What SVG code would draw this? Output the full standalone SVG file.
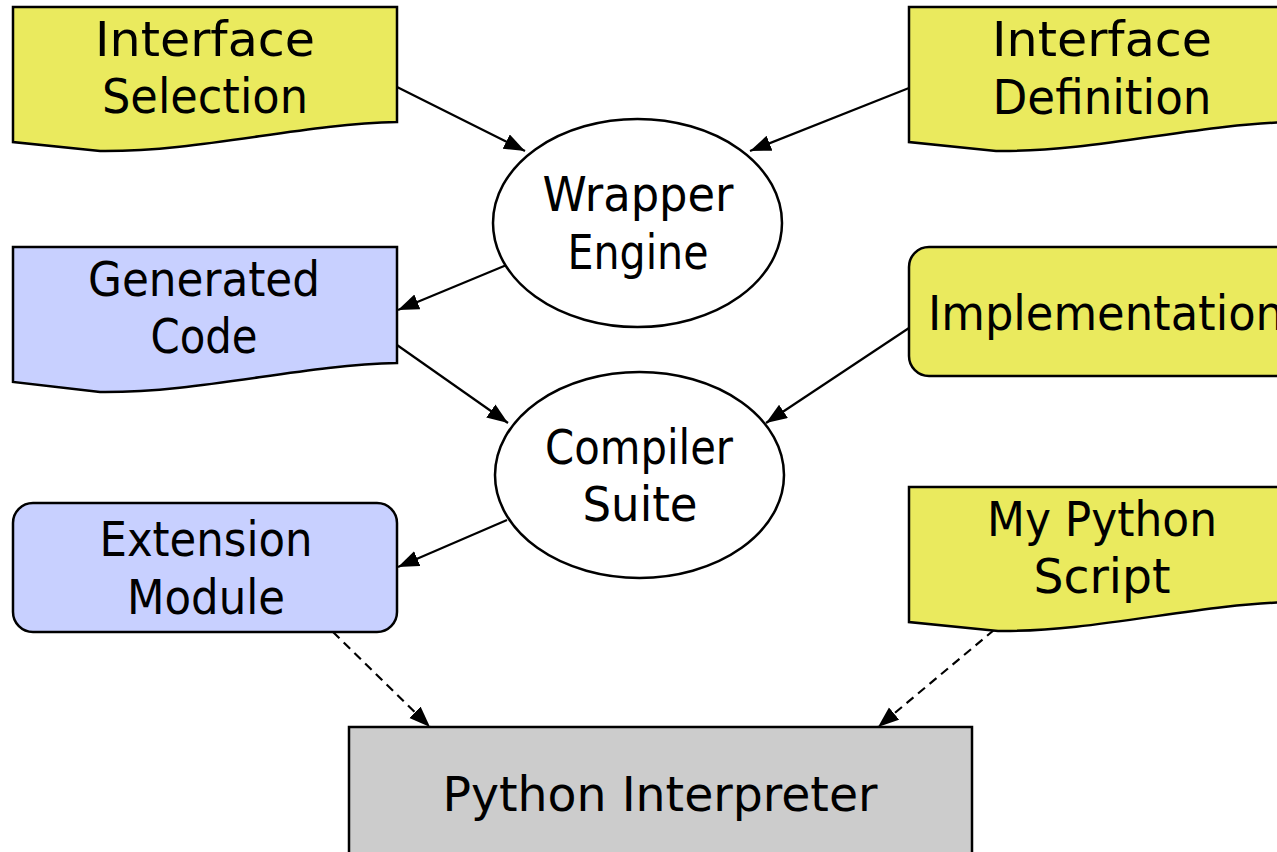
<svg xmlns="http://www.w3.org/2000/svg" width="1277" height="852" viewBox="0 0 1277 852">
  <style>
    .lbl { font-family: "Comic Sans MS", "DejaVu Sans", "Liberation Sans", sans-serif; font-size: 48px; fill: #000; text-anchor: middle; }
    .yellow { fill: #EAEA5E; stroke: #000; stroke-width: 2.5; }
    .blue { fill: #C8D0FF; stroke: #000; stroke-width: 2.5; }
    .gray { fill: #CCCCCC; stroke: #000; stroke-width: 2.5; }
    .oval { fill: #FFFFFF; stroke: #000; stroke-width: 2.5; }
    .edge { fill: none; stroke: #000; stroke-width: 2.2; marker-end: url(#arrow); }
    .dashed { stroke-dasharray: 9 6; }
  </style>
  <defs>
    <marker id="arrow" markerUnits="userSpaceOnUse" markerWidth="22" markerHeight="18" refX="21" refY="8" orient="auto">
      <path d="M0,0 L21,8 L0,16 Z" fill="#000"/>
    </marker>
  </defs>

  <rect width="1277" height="852" fill="#FFFFFF"/>

  <!-- connectors -->
  <g id="connectors">
    <line class="edge" x1="397" y1="87" x2="525" y2="151"/>
    <line class="edge" x1="909" y1="88" x2="750" y2="151"/>
    <line class="edge" x1="509" y1="264" x2="398" y2="310"/>
    <line class="edge" x1="397" y1="345" x2="508" y2="423"/>
    <line class="edge" x1="909" y1="328" x2="766" y2="423"/>
    <line class="edge" x1="507" y1="520" x2="398" y2="567"/>
    <line class="edge dashed" x1="333" y1="632" x2="430" y2="727"/>
    <line class="edge dashed" x1="994" y1="630" x2="878" y2="727"/>
  </g>

  <!-- Interface Selection (document) -->
  <g id="interface-selection">
    <path class="yellow" d="M13,7 L397,7 L397,122 C300,124 200,152 100,151 L13,142 Z"/>
    <text class="lbl" x="205" y="56" textLength="220" lengthAdjust="spacingAndGlyphs">Interface</text>
    <text class="lbl" x="205" y="113" textLength="206" lengthAdjust="spacingAndGlyphs">Selection</text>
  </g>

  <!-- Interface Definition (document) -->
  <g id="interface-definition">
    <path class="yellow" d="M909,7 L1293,7 L1293,122 C1196,124 1096,152 996,151 L909,142 Z"/>
    <text class="lbl" x="1102" y="56" textLength="220" lengthAdjust="spacingAndGlyphs">Interface</text>
    <text class="lbl" x="1102" y="114" textLength="219" lengthAdjust="spacingAndGlyphs">Definition</text>
  </g>

  <!-- Wrapper Engine -->
  <g id="wrapper-engine">
    <ellipse class="oval" cx="637.5" cy="223" rx="144.5" ry="104"/>
    <text class="lbl" x="638" y="211" textLength="191" lengthAdjust="spacingAndGlyphs">Wrapper</text>
    <text class="lbl" x="638" y="269" textLength="141" lengthAdjust="spacingAndGlyphs">Engine</text>
  </g>

  <!-- Generated Code (document) -->
  <g id="generated-code">
    <path class="blue" d="M13,247 L397,247 L397,363 C300,365 200,393 100,392 L13,382 Z"/>
    <text class="lbl" x="204" y="296" textLength="232" lengthAdjust="spacingAndGlyphs">Generated</text>
    <text class="lbl" x="204" y="353" textLength="107" lengthAdjust="spacingAndGlyphs">Code</text>
  </g>

  <!-- Implementation -->
  <g id="implementation">
    <rect class="yellow" x="909" y="247" width="390" height="129" rx="20" ry="20"/>
    <text class="lbl" x="1106" y="330" textLength="356" lengthAdjust="spacingAndGlyphs">Implementation</text>
  </g>

  <!-- Compiler Suite -->
  <g id="compiler-suite">
    <ellipse class="oval" cx="639.5" cy="475" rx="144.5" ry="103"/>
    <text class="lbl" x="639" y="464" textLength="188" lengthAdjust="spacingAndGlyphs">Compiler</text>
    <text class="lbl" x="640" y="521" textLength="115" lengthAdjust="spacingAndGlyphs">Suite</text>
  </g>

  <!-- Extension Module -->
  <g id="extension-module">
    <rect class="blue" x="13" y="503" width="384" height="129" rx="20" ry="20"/>
    <text class="lbl" x="206" y="556" textLength="213" lengthAdjust="spacingAndGlyphs">Extension</text>
    <text class="lbl" x="206" y="614" textLength="158" lengthAdjust="spacingAndGlyphs">Module</text>
  </g>

  <!-- My Python Script (document) -->
  <g id="my-python-script">
    <path class="yellow" d="M909,487 L1293,487 L1293,602 C1196,604 1096,632 998,631 L909,622 Z"/>
    <text class="lbl" x="1102" y="536" textLength="230" lengthAdjust="spacingAndGlyphs">My Python</text>
    <text class="lbl" x="1102" y="593" textLength="137" lengthAdjust="spacingAndGlyphs">Script</text>
  </g>

  <!-- Python Interpreter -->
  <g id="python-interpreter">
    <rect class="gray" x="349" y="727" width="623" height="140"/>
    <text class="lbl" x="660" y="811" textLength="435" lengthAdjust="spacingAndGlyphs">Python Interpreter</text>
  </g>
</svg>
